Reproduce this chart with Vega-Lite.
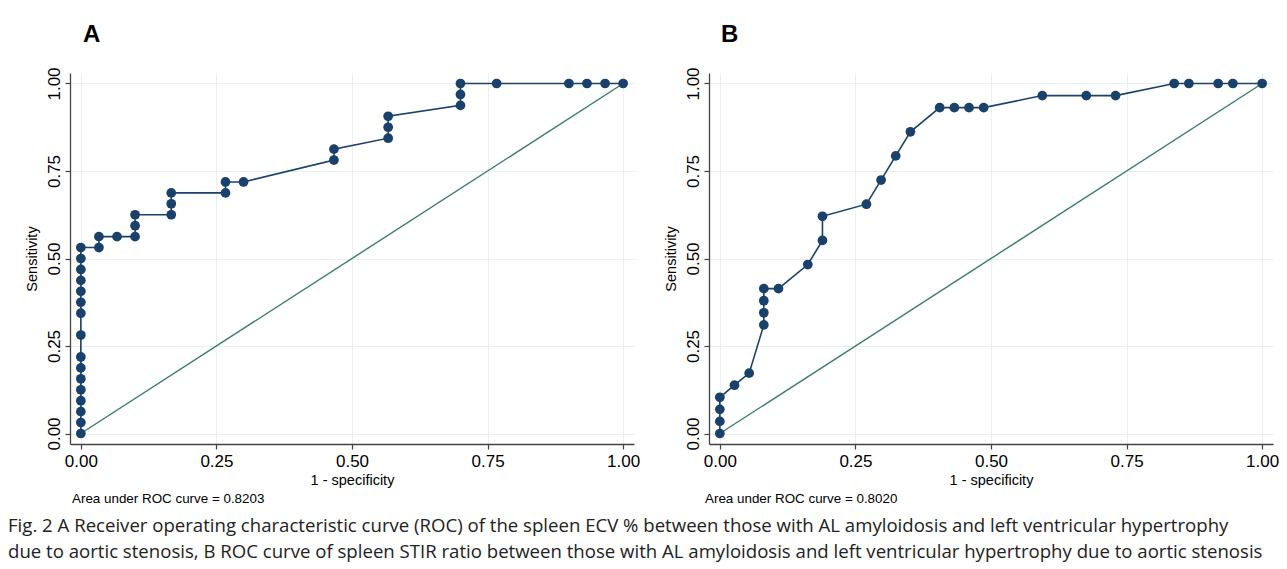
{
  "$schema": "https://vega.github.io/schema/vega-lite/v6.json",
  "background": "white",
  "padding": {"left": 8, "top": 22, "right": 5, "bottom": 4},
  "datasets": {
    "rocA": [
      {"fpr": 0, "tpr": 0}, {"fpr": 0, "tpr": 0.03125}, {"fpr": 0, "tpr": 0.0625}, {"fpr": 0, "tpr": 0.09375},
      {"fpr": 0, "tpr": 0.125}, {"fpr": 0, "tpr": 0.15625}, {"fpr": 0, "tpr": 0.1875}, {"fpr": 0, "tpr": 0.21875},
      {"fpr": 0, "tpr": 0.28125}, {"fpr": 0, "tpr": 0.34375}, {"fpr": 0, "tpr": 0.375}, {"fpr": 0, "tpr": 0.40625},
      {"fpr": 0, "tpr": 0.4375}, {"fpr": 0, "tpr": 0.46875}, {"fpr": 0, "tpr": 0.5}, {"fpr": 0, "tpr": 0.53125},
      {"fpr": 0.0333, "tpr": 0.53125}, {"fpr": 0.0333, "tpr": 0.5625}, {"fpr": 0.0667, "tpr": 0.5625},
      {"fpr": 0.1, "tpr": 0.5625}, {"fpr": 0.1, "tpr": 0.59375}, {"fpr": 0.1, "tpr": 0.625},
      {"fpr": 0.1667, "tpr": 0.625}, {"fpr": 0.1667, "tpr": 0.65625}, {"fpr": 0.1667, "tpr": 0.6875},
      {"fpr": 0.2667, "tpr": 0.6875}, {"fpr": 0.2667, "tpr": 0.71875}, {"fpr": 0.3, "tpr": 0.71875},
      {"fpr": 0.4667, "tpr": 0.78125}, {"fpr": 0.4667, "tpr": 0.8125},
      {"fpr": 0.5667, "tpr": 0.84375}, {"fpr": 0.5667, "tpr": 0.875}, {"fpr": 0.5667, "tpr": 0.90625},
      {"fpr": 0.7, "tpr": 0.9375}, {"fpr": 0.7, "tpr": 0.96875}, {"fpr": 0.7, "tpr": 1},
      {"fpr": 0.7667, "tpr": 1}, {"fpr": 0.9, "tpr": 1}, {"fpr": 0.9333, "tpr": 1}, {"fpr": 0.9667, "tpr": 1},
      {"fpr": 1, "tpr": 1}
    ],
    "rocB": [
      {"fpr": 0, "tpr": 0}, {"fpr": 0, "tpr": 0.0345}, {"fpr": 0, "tpr": 0.069}, {"fpr": 0, "tpr": 0.1034},
      {"fpr": 0.027, "tpr": 0.1379}, {"fpr": 0.0541, "tpr": 0.1724},
      {"fpr": 0.0811, "tpr": 0.3103}, {"fpr": 0.0811, "tpr": 0.3448}, {"fpr": 0.0811, "tpr": 0.3793}, {"fpr": 0.0811, "tpr": 0.4138},
      {"fpr": 0.1081, "tpr": 0.4138}, {"fpr": 0.1622, "tpr": 0.4828},
      {"fpr": 0.1892, "tpr": 0.5517}, {"fpr": 0.1892, "tpr": 0.6207},
      {"fpr": 0.2703, "tpr": 0.6552}, {"fpr": 0.2973, "tpr": 0.7241}, {"fpr": 0.3243, "tpr": 0.7931},
      {"fpr": 0.3514, "tpr": 0.8621}, {"fpr": 0.4054, "tpr": 0.931}, {"fpr": 0.4324, "tpr": 0.931},
      {"fpr": 0.4595, "tpr": 0.931}, {"fpr": 0.4865, "tpr": 0.931},
      {"fpr": 0.5946, "tpr": 0.9655}, {"fpr": 0.6757, "tpr": 0.9655}, {"fpr": 0.7297, "tpr": 0.9655},
      {"fpr": 0.8378, "tpr": 1}, {"fpr": 0.8649, "tpr": 1}, {"fpr": 0.9189, "tpr": 1}, {"fpr": 0.9459, "tpr": 1},
      {"fpr": 1, "tpr": 1}
    ],
    "diag": [{"fpr": 0, "tpr": 0}, {"fpr": 1, "tpr": 1}]
  },
  "hconcat": [
    {
      "title": {"text": "A", "anchor": "start", "frame": "group", "dx": 13, "offset": 20},
      "vconcat": [
        {
          "width": 564,
          "height": 371,
          "title": {"text": "Area under ROC curve = 0.8203", "orient": "bottom", "anchor": "start", "frame": "group", "fontSize": 13.4, "fontWeight": "normal", "font": "Liberation Sans", "offset": 5, "dx": 2},
          "layer": [
            {
              "data": {"name": "diag"},
              "mark": {"type": "line", "color": "#3a7d66", "strokeWidth": 1.4},
              "encoding": {
                "x": {"field": "fpr", "type": "quantitative"},
                "y": {"field": "tpr", "type": "quantitative"}
              }
            },
            {
              "data": {"name": "rocA"},
              "mark": {"type": "line", "color": "#1a416b", "strokeWidth": 1.6, "point": {"filled": true, "size": 95, "color": "#1a416b", "opacity": 1}},
              "encoding": {
                "x": {"field": "fpr", "type": "quantitative", "title": "1 - specificity", "scale": {"domain": [-0.02, 1.02], "nice": false, "zero": false}, "axis": {"values": [0, 0.25, 0.5, 0.75, 1], "format": ".2f"}},
                "y": {"field": "tpr", "type": "quantitative", "title": "Sensitivity", "scale": {"domain": [-0.03, 1.03], "nice": false, "zero": false}, "axis": {"values": [0, 0.25, 0.5, 0.75, 1], "format": ".2f"}},
                "order": [{"field": "fpr"}, {"field": "tpr"}]
              }
            }
          ]
        }
      ]
    },
    {
      "title": {"text": "B", "anchor": "start", "frame": "group", "dx": 12, "offset": 20},
      "vconcat": [
        {
          "width": 564,
          "height": 371,
          "title": {"text": "Area under ROC curve = 0.8020", "orient": "bottom", "anchor": "start", "frame": "group", "fontSize": 13.4, "fontWeight": "normal", "font": "Liberation Sans", "offset": 5, "dx": -4},
          "layer": [
            {
              "data": {"name": "diag"},
              "mark": {"type": "line", "color": "#3a7d66", "strokeWidth": 1.4},
              "encoding": {
                "x": {"field": "fpr", "type": "quantitative"},
                "y": {"field": "tpr", "type": "quantitative"}
              }
            },
            {
              "data": {"name": "rocB"},
              "mark": {"type": "line", "color": "#1a416b", "strokeWidth": 1.6, "point": {"filled": true, "size": 95, "color": "#1a416b", "opacity": 1}},
              "encoding": {
                "x": {"field": "fpr", "type": "quantitative", "title": "1 - specificity", "scale": {"domain": [-0.02, 1.02], "nice": false, "zero": false}, "axis": {"values": [0, 0.25, 0.5, 0.75, 1], "format": ".2f"}},
                "y": {"field": "tpr", "type": "quantitative", "title": "Sensitivity", "scale": {"domain": [-0.03, 1.03], "nice": false, "zero": false}, "axis": {"values": [0, 0.25, 0.5, 0.75, 1], "format": ".2f"}},
                "order": [{"field": "fpr"}, {"field": "tpr"}]
              }
            }
          ]
        }
      ]
    }
  ],
  "spacing": 23,
  "title": {
    "text": [
      "Fig. 2  A Receiver operating characteristic curve (ROC) of the spleen ECV % between those with AL amyloidosis and left ventricular hypertrophy",
      "due to aortic stenosis, B ROC curve of spleen STIR ratio between those with AL amyloidosis and left ventricular hypertrophy due to aortic stenosis"
    ],
    "orient": "bottom",
    "anchor": "start",
    "frame": "bounds",
    "font": "Open Sans",
    "fontSize": 18.6,
    "fontWeight": "normal",
    "color": "#222",
    "lineHeight": 26,
    "offset": 12,
    "dx": -16
  },
  "config": {
    "view": {"stroke": null},
    "title": {"font": "Liberation Sans", "fontSize": 24, "fontWeight": "bold", "color": "#000"},
    "axis": {
      "domainColor": "#444",
      "domainWidth": 1.3,
      "tickColor": "#444",
      "tickWidth": 1.2,
      "tickSize": 5,
      "labelFont": "Liberation Sans",
      "labelFontSize": 17,
      "labelColor": "#000",
      "titleFont": "Liberation Sans",
      "titleFontSize": 14.5,
      "titleFontWeight": "normal",
      "titleColor": "#000",
      "gridColor": "#e9f0f2",
      "gridWidth": 1
    },
    "axisX": {"labelPadding": 4, "titlePadding": 4},
    "axisY": {"labelAngle": 270, "labelAlign": "center", "labelBaseline": "alphabetic", "labelPadding": 6, "titlePadding": 6}
  }
}
